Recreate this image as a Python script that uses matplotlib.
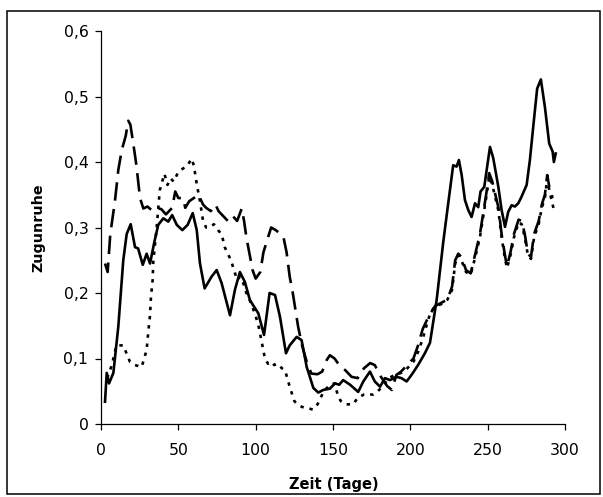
import matplotlib
matplotlib.use("Agg")
import matplotlib.pyplot as plt
import matplotlib.ticker as ticker
from matplotlib.patches import Rectangle

# ---- data ----
solid_days = [2.6, 3.7, 5.2, 8, 11.2, 14.4, 16.6, 19.2, 22, 24, 27, 29.5, 31.7, 34.5, 37, 40.3,
              43.5, 46, 49, 52.6, 56, 59.3, 61.9, 64, 67, 71.5, 74.8, 78, 83.4, 86.6, 89.8, 93,
              96.3, 101.7, 105.4, 107, 109, 112.5, 115.7, 119.6, 122, 126.5, 129.7, 133, 137.3,
              140.5, 143.7, 148, 151.3, 154, 156.6, 161, 166.3, 169.6, 173.9, 177, 180.4, 183.6,
              186.8, 191.1, 194.3, 197.6, 200.8, 205, 209.4, 212.7, 217, 221.3, 224.5, 227.7,
              229.9, 231.4, 233.2, 235.3, 237.4, 239.6, 241.8, 243.9, 245.4, 247.8, 251.5, 253.6,
              256.9, 259, 261.2, 263.3, 265.5, 267.6, 269.8, 271.9, 275.2, 277.3, 279.9, 282,
              284.4, 287, 289.8, 292, 292.8, 294]
solid_vals = [0.034, 0.078, 0.062, 0.078, 0.149, 0.25, 0.29, 0.305, 0.27, 0.268, 0.243, 0.26,
              0.245, 0.278, 0.304, 0.314, 0.309, 0.319, 0.304, 0.296, 0.304, 0.322, 0.296, 0.245,
              0.207, 0.225, 0.235, 0.215, 0.166, 0.205, 0.232, 0.217, 0.189, 0.169, 0.136, 0.164,
              0.2, 0.197, 0.164, 0.108, 0.12, 0.133, 0.128, 0.087, 0.055, 0.048, 0.052, 0.054,
              0.062, 0.06, 0.067, 0.06, 0.049, 0.065, 0.08, 0.065, 0.057, 0.07, 0.067, 0.072,
              0.07, 0.065, 0.075, 0.09, 0.108, 0.124, 0.189, 0.278, 0.337, 0.395, 0.393, 0.403,
              0.38, 0.342, 0.327, 0.316, 0.337, 0.331, 0.355, 0.362, 0.423, 0.406, 0.362, 0.327,
              0.301, 0.324, 0.334, 0.332, 0.337, 0.347, 0.365, 0.403, 0.464, 0.512, 0.526, 0.484,
              0.428, 0.416, 0.4, 0.413]

dash_days = [2.6, 4.3, 6, 9, 11.2, 13.4, 16, 17.6, 19, 21.5, 23, 25.2, 27.4, 30, 33, 36, 39, 42,
             46, 48, 50, 53, 54.5, 57, 60, 63, 66, 68, 71, 74, 76, 78, 82, 85, 88, 91, 92.5, 94,
             96, 98, 100, 103, 105, 108, 110, 113, 116, 118, 120, 122, 124, 126, 127.5, 130,
             133, 136, 140, 143, 146, 148, 151, 154, 158, 162, 166, 170, 174, 177, 181, 185,
             188, 191, 194, 198, 202, 205, 208, 212, 216, 220, 224, 227, 229, 231, 233, 236,
             239, 242, 245, 247, 249, 251, 253, 255, 257, 259, 261, 262.5, 265, 267, 270, 272,
             274, 276, 278, 280, 283, 285, 287, 288.5, 290, 292]
dash_vals = [0.245, 0.232, 0.29, 0.34, 0.388, 0.418, 0.44, 0.463, 0.457, 0.418, 0.393, 0.345,
             0.329, 0.332, 0.326, 0.33, 0.328, 0.32, 0.33, 0.355, 0.345, 0.345, 0.33, 0.34,
             0.345, 0.35, 0.335, 0.33, 0.325, 0.335, 0.325, 0.32, 0.31, 0.318, 0.31, 0.329,
             0.31, 0.285, 0.26, 0.235, 0.222, 0.232, 0.262, 0.285, 0.3, 0.296, 0.29, 0.285,
             0.262, 0.225, 0.2, 0.17, 0.148, 0.12, 0.095, 0.077, 0.076, 0.08, 0.098, 0.105,
             0.1, 0.09, 0.082, 0.072, 0.07, 0.085, 0.093, 0.09, 0.072, 0.058, 0.052, 0.075,
             0.08, 0.09, 0.1, 0.12, 0.145, 0.165, 0.18, 0.185, 0.19, 0.21, 0.25, 0.26, 0.255,
             0.235, 0.23, 0.26, 0.29, 0.32, 0.35, 0.383, 0.37, 0.35, 0.33, 0.29, 0.26, 0.24,
             0.265, 0.29, 0.312, 0.31, 0.29, 0.26, 0.255, 0.29, 0.31, 0.335, 0.35, 0.38, 0.36,
             0.345]

dot_days = [4, 7, 10, 14.4, 18.7, 22, 26.3, 29.5, 30.6, 31.7, 32.3, 33.4, 33.8, 36, 38, 41,
            43, 45, 47, 50, 53, 56, 58.5, 60, 62, 64, 66, 68, 70, 73, 76, 78, 80, 82, 84, 86,
            88, 90, 92, 94, 96, 98, 100, 102, 104, 106, 108, 110, 112, 114, 117, 119, 122, 125,
            127, 130, 134, 137, 140, 144, 148, 151, 153, 155, 158, 161, 163, 166, 170, 173, 176,
            179, 183, 186, 190, 194, 198, 202, 205, 208, 211, 213, 216, 220, 224, 227, 229,
            231, 233, 236, 239, 242, 245, 247, 249, 251, 253, 255, 257, 259, 261, 262.5, 265,
            267, 270, 272, 274, 276, 278, 280, 283, 285, 287, 288.5, 290, 293]
dot_vals = [0.07, 0.09, 0.12, 0.12, 0.095, 0.09, 0.087, 0.113, 0.141, 0.166, 0.194, 0.22,
            0.248, 0.3, 0.357, 0.382, 0.365, 0.375, 0.37, 0.385, 0.39, 0.395, 0.405, 0.395,
            0.365, 0.34, 0.31, 0.3, 0.3, 0.305, 0.295, 0.29, 0.27, 0.26, 0.25, 0.235, 0.22,
            0.225, 0.215, 0.2, 0.19, 0.178, 0.165, 0.148, 0.124, 0.1, 0.092, 0.095, 0.09,
            0.092, 0.085, 0.082, 0.057, 0.035, 0.03, 0.026, 0.024, 0.022, 0.03, 0.05, 0.06,
            0.062, 0.045, 0.035, 0.03, 0.03, 0.03, 0.04, 0.045, 0.045, 0.045, 0.05, 0.06, 0.07,
            0.075, 0.078, 0.085, 0.095, 0.11, 0.13, 0.155, 0.17, 0.18, 0.183, 0.19, 0.205,
            0.245, 0.258, 0.25, 0.232, 0.228, 0.255, 0.285, 0.315, 0.345, 0.378, 0.365, 0.345,
            0.325, 0.285, 0.255, 0.238, 0.26, 0.285, 0.308, 0.305, 0.285, 0.258, 0.252, 0.285,
            0.305, 0.33, 0.345, 0.375, 0.355, 0.325]

x_ticks = [0, 50, 100, 150, 200, 250, 300]
y_ticks = [0, 0.1, 0.2, 0.3, 0.4, 0.5, 0.6]
x_label = "Zeit (Tage)"
y_label = "Zugunruhe"

# ---- figure ----
W, H = 603, 497
fig = plt.figure(figsize=(W / 100, H / 100), dpi=100)
ax = fig.add_axes([101 / W, 1 - 424 / H, 464 / W, 393 / H])

lw = 1.9
ax.plot(solid_days, solid_vals, color="black", lw=lw, solid_joinstyle="round")
ax.plot(dash_days, dash_vals, color="black", lw=lw, linestyle=(0, (7, 3.2)),
        dash_capstyle="butt")
ax.plot(dot_days, dot_vals, color="black", lw=lw, linestyle=(0, (1.3, 2.2)),
        dash_capstyle="butt")

ax.set_xlim(0, 300)
ax.set_ylim(0, 0.6)
ax.set_xticks(x_ticks)
ax.set_yticks(y_ticks)
ax.yaxis.set_major_formatter(ticker.FuncFormatter(
    lambda v, p: "0" if abs(v) < 1e-9 else ("%.1f" % v).replace(".", ",")))
ax.xaxis.set_major_formatter(ticker.FuncFormatter(lambda v, p: "%d" % v))

for s in ["top", "right"]:
    ax.spines[s].set_visible(False)
for s in ["left", "bottom"]:
    ax.spines[s].set_linewidth(0.9)
ax.tick_params(axis="both", direction="out", length=4.5, width=0.9, labelsize=11.3)
ax.tick_params(axis="x", pad=9)
ax.tick_params(axis="y", pad=4.5)

ax.set_xlabel(x_label, fontsize=10.5, fontweight="bold")
ax.set_ylabel(y_label, fontsize=10.3, fontweight="bold")
ax.xaxis.set_label_coords((334 - 101) / 464, (424 - 485) / 393)
ax.xaxis.label.set_verticalalignment("center")
ax.yaxis.set_label_coords((38 - 101) / 464, (424 - 228) / 393)
ax.yaxis.label.set_verticalalignment("center")

# outer frame
fig.patches.append(Rectangle((7 / W, 1 - 494 / H), (600 - 7) / W, (494 - 11) / H,
                             transform=fig.transFigure, fill=False, ec="black", lw=1.1))

fig.savefig("out.png", dpi=100)
